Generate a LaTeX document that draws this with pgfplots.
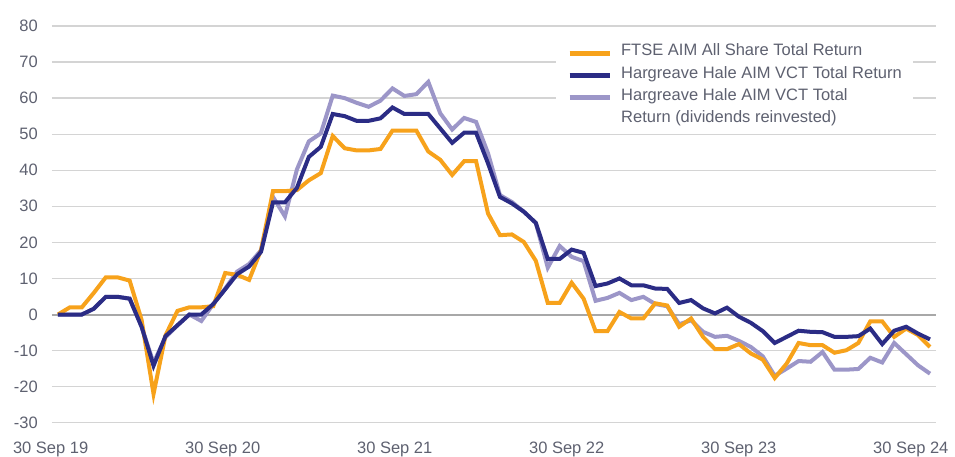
\documentclass[border=0pt]{standalone}
\usepackage{fontspec}
\setmainfont{Liberation Sans}
\usepackage{pgfplots}
\usepackage{pgfplotstable}
\pgfplotsset{compat=1.18}
\definecolor{orangec}{HTML}{F7A21B}
\definecolor{navyc}{HTML}{2B2C85}
\definecolor{lavc}{HTML}{9C96C8}
\definecolor{gridc}{HTML}{D4D4D4}
\definecolor{zeroc}{HTML}{A8A8A8}
\definecolor{txtc}{HTML}{5E6170}

\pgfplotstableread{
i ftse hh hhdr
0 0 0 0
1 2 0 0
2 2 0 0
3 6 1.6 1.6
4 10.3 4.9 4.9
5 10.3 4.9 4.9
6 9.4 4.4 4.4
7 -1.5 -3.4 -3.4
8 -22 -14.2 -13.4
9 -5.8 -6 -6.3
10 1 -3 -3
11 2 0 0
12 2 0 -1.8
13 2.3 2.9 2.9
14 11.5 7 7.2
15 11 11.2 11.9
16 9.6 13.3 14
17 17.9 17.4 17.8
18 34.2 31.1 32.6
19 34.2 31.1 27.2
20 34.5 35.1 40.2
21 37.2 43.7 48
22 39.2 46.5 50.2
23 49.5 55.6 60.7
24 46.1 55 60
25 45.5 53.7 58.7
26 45.5 53.7 57.6
27 45.9 54.4 59.3
28 51 57.4 62.7
29 51 55.6 60.6
30 51 55.6 61.1
31 45.2 55.6 64.5
32 42.9 51.6 55.8
33 38.7 47.6 51.3
34 42.5 50.4 54.5
35 42.5 50.4 53.4
36 28 41.9 44.7
37 22 32.6 33.1
38 22.2 30.8 31.2
39 20.1 28.5 28.5
40 14.9 25.4 25.4
41 3.2 15.4 13
42 3.2 15.4 19
43 8.8 18 16
44 4.4 17.1 14.8
45 -4.6 7.9 3.8
46 -4.6 8.6 4.6
47 0.7 10 6
48 -1.1 8.1 4
49 -1.1 8.1 4.9
50 3.1 7.2 2.9
51 2.5 7.1 2.3
52 -3.4 3.2 -2.7
53 -1.1 4 -1.6
54 -6.2 1.7 -4.8
55 -9.6 0.3 -6.2
56 -9.6 1.9 -5.9
57 -8.2 -0.6 -7.3
58 -10.8 -2.3 -9
59 -12.5 -4.6 -11.6
60 -17.6 -7.9 -17
61 -13.6 -6.2 -15
62 -7.9 -4.5 -12.9
63 -8.5 -4.8 -13.1
64 -8.5 -4.9 -10.4
65 -10.6 -6.2 -15.3
66 -9.9 -6.2 -15.3
67 -7.9 -6 -15.1
68 -1.9 -3.9 -12
69 -1.9 -8.2 -13.3
70 -6.2 -4.5 -7.9
71 -3.9 -3.4 -11
72 -5.7 -5.3 -14.1
73 -9 -6.9 -16.4
}\datatable

\begin{document}
\begin{tikzpicture}
\useasboundingbox (-52pt,-33.3pt) rectangle (903pt,422.7pt);
\begin{axis}[
  at={(0pt,0pt)}, anchor=south west,
  width=884pt, height=396.7pt, scale only axis,
  xmin=-0.5, xmax=73.5, ymin=-30, ymax=80,
  axis line style={draw=none},
  major tick length=0pt,
  ytick={-30,-20,...,80},
  yticklabels={-30,-20,-10,0,10,20,30,40,50,60,70,80},
  xtick={0,14.4,28.8,43.2,57.6,72},
  xticklabels={30 Sep 19,30 Sep 20,30 Sep 21,30 Sep 22,30 Sep 23,30 Sep 24},
  ymajorgrids, grid style={gridc, line width=1.3pt},
  extra y ticks={0}, extra y tick labels={},
  extra y tick style={grid style={zeroc, line width=2pt}},
  tick label style={font=\fontsize{16.5}{20}\selectfont, text=txtc},
  yticklabel style={anchor=east, inner sep=0pt, xshift=-14pt},
  xticklabel style={anchor=base, inner sep=0pt, yshift=-31pt, xshift=-7.3pt},
  legend image code/.code={\draw[#1] (0pt,0pt) -- (40pt,0pt);},
  legend cell align=left,
  legend style={at={(0.5701,0.9655)}, anchor=north west, draw=none, fill=white,
    inner xsep=11pt, inner ysep=2pt, row sep=0pt, column sep=9pt,
    font=\fontsize{16.5}{20}\selectfont, text=txtc,
    nodes={inner sep=0pt, text height=14pt, text depth=8.3pt}},
  clip=false,
]
\addplot[lavc, line width=4pt, forget plot] table[x=i,y=hhdr]{\datatable};
\addplot[orangec, line width=4pt, forget plot] table[x=i,y=ftse]{\datatable};
\addplot[navyc, line width=4pt, forget plot] table[x=i,y=hh]{\datatable};
\addlegendimage{orangec, line width=5pt}
\addlegendentry{FTSE AIM All Share Total Return}
\addlegendimage{navyc, line width=5pt}
\addlegendentry{Hargreave Hale AIM VCT Total Return}
\addlegendimage{lavc, line width=5pt}
\addlegendentry{Hargreave Hale AIM VCT Total}
\addlegendimage{empty legend}
\addlegendentry{Return (dividends reinvested)}
\end{axis}
\end{tikzpicture}
\end{document}
